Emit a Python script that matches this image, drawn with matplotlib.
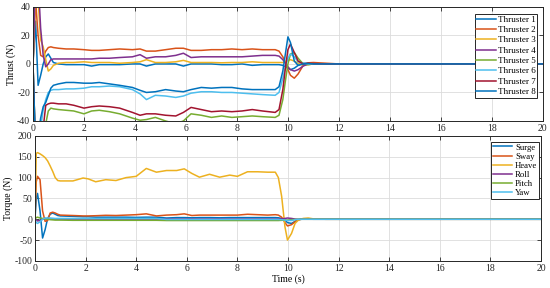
import matplotlib
matplotlib.use('Agg')
import matplotlib.pyplot as plt

plt.rcParams['font.family'] = ['Liberation Serif', 'DejaVu Serif']
plt.rcParams['axes.unicode_minus'] = False

# ---------------- data: top panel (thrust) ----------------
t_top = [0, 0.1, 0.2, 0.3, 0.4, 0.5, 0.6, 0.7, 0.8, 1.0,
         1.3, 1.6, 2.0, 2.3, 2.6, 3.0, 3.4, 3.9, 4.2, 4.45,
         4.8, 5.2, 5.6, 5.9, 6.2, 6.6, 7.0, 7.4, 7.8, 8.2,
         8.6, 9.0, 9.5, 9.65, 9.8, 9.9, 10.0, 10.1, 10.25, 10.4,
         10.6, 10.8, 11.0, 11.5, 12.0, 20.0]

thruster1 = [0, 30, -15, -8, 0, 5, 7, 4, 1, 0,
             -0.5, -0.5, -0.5, -1.5, -0.5, -0.5, -0.5, 0, 0, -1.5,
             0, 0, 0, -1.5, 0, 0, 0, -0.5, -0.5, 0,
             -1, -0.5, -0.5, -0.5, -1, -2, -3, -4, -3, -1,
             0.5, 0.5, 0.2, 0, 0, 0]
thruster2 = [0, 45, 20, 6, 5, 9, 11.5, 12, 11.5, 11,
             10.5, 10.5, 10, 9.5, 9.5, 10, 10.5, 10, 10.5, 9,
             9, 10, 11, 11, 9.5, 9.5, 10, 10, 10.5, 10,
             10.5, 10, 10, 9, 5, 1, -4, -8, -10, -7,
             -1, 0.8, 1, 0.5, 0, 0]
thruster3 = [0, 50, 45, 17, 12, 3, -5, -3.5, -1, 0.5,
             1, 1, 1.5, 1, 1, 1, 0.5, 1, 1.5, 3,
             1, 1, 1.5, 2.5, 1, 1, 1, 0.8, 1, 1,
             1.5, 1, 1, 1, 1, 1.5, 2.5, 3, 2, 0.5,
             -1, -0.5, 0, 0, 0, 0]
thruster4 = [0, 60, 60, 25, 6, -2, 0, 3, 3.5, 3.5,
             3.5, 3.5, 3.5, 3.5, 4, 4, 4.5, 5, 6.5, 4,
             5, 5, 6, 7.5, 4.5, 5, 5, 5, 5, 5,
             5.5, 6, 6, 5.5, 3, 0.5, -2, -4, -5, -4,
             -1.5, 0, 0.2, 0, 0, 0]
thruster5 = [0, -60, -60, -60, -55, -42, -33, -31, -31.5, -32,
             -32.5, -33, -35, -33, -32.5, -33.5, -35, -38, -39.5, -39,
             -37.5, -40, -42, -40, -35, -36, -37.5, -36.5, -37.5, -37,
             -36.5, -37, -37.5, -36, -25, -12, 0, 7, 8, 4,
             0, -0.5, 0, 0, 0, 0]
thruster6 = [0, -60, -55, -45, -32, -25, -20, -18.5, -18, -18,
             -17.5, -17.5, -17, -16, -16, -15.5, -16, -18, -21, -25,
             -22, -22.5, -23.5, -22.5, -20.5, -19.5, -19.5, -20, -20, -20.5,
             -21, -21.5, -22, -20, -10, -2, 4, 7, 5, 1.5,
             0, 0, 0, 0, 0, 0]
thruster7 = [0, -60, -60, -55, -45, -29, -28, -27.5, -27.5, -28,
             -28, -29, -31, -30, -29.5, -30, -31, -34, -36, -35,
             -35, -36, -36.5, -34, -30.5, -32, -33.5, -33, -33.5, -33,
             -32, -33, -34, -32, -18, -3, 10, 14, 8, 2,
             0, 0.5, 0.2, 0, 0, 0]
thruster8 = [0, -60, -50, -38, -30, -27, -22, -17, -15, -14,
             -13, -13, -13.5, -13.5, -13, -14, -15, -16.5, -18.5, -20,
             -19.5, -18, -19, -19.5, -18, -16.5, -17, -16.5, -16.5, -17.5,
             -18, -18, -18, -16, -5, 7, 19, 15, 2, -1,
             0, 0.3, 0, 0, 0, 0]

thrust_labels = ['Thruster 1', 'Thruster 2', 'Thruster 3', 'Thruster 4',
                 'Thruster 5', 'Thruster 6', 'Thruster 7', 'Thruster 8']

# ---------------- data: bottom panel (torque) ----------------
t_bot = [0, 0.05, 0.1, 0.2, 0.3, 0.4, 0.5, 0.6, 0.7, 0.8,
         0.9, 1.0, 1.5, 1.9, 2.1, 2.4, 2.8, 3.2, 3.6, 4.0,
         4.4, 4.8, 5.2, 5.6, 5.9, 6.2, 6.5, 6.9, 7.3, 7.7,
         8.0, 8.4, 8.8, 9.2, 9.5, 9.62, 9.75, 9.88, 9.98, 10.14,
         10.28, 10.41, 10.6, 10.8, 11.0, 11.5, 20.0]

surge = [0, 50, 62, 20, -45, -25, 2, 12, 15, 12,
         9, 8, 7, 6, 6, 5, 5, 5, 5, 4.5,
         5, 5, 3, 4, 4, 3.5, 4, 4, 3.5, 4,
         4, 4, 4, 4, 4, 3.5, 2, -2, -8, -10,
         -5, -1, 0.5, 0.5, 0, 0, 0]
sway = [0, 90, 103, 95, 20, -5, -3, 15, 17, 15,
        12, 10, 9, 8, 8, 8.5, 9.5, 9, 10, 11,
        13, 8, 10, 11, 13, 9, 10, 10, 10, 10,
        10, 12, 11, 10, 11, 10, 5, -8, -16, -13,
        -6, -1, 1, 1, 0.5, 0, 0]
heave = [0, 158, 160, 157, 153, 148, 140, 128, 115, 100,
         93, 92, 92, 99, 97, 90, 95, 93, 100, 103,
         122, 113, 117, 117, 121, 110, 101, 108, 101, 106,
         103, 114, 114, 113, 113, 100, 55, -18, -50, -34,
         -10, -2, 2, 3, 1, 0, 0]
roll = [0, -2, -4, -3, 0, 2, 1, 0.5, 0.5, 0.5,
        0.5, 0.5, 0.5, 0.5, 0.5, 0.5, 0.5, 0.5, 0.5, 0.5,
        0.5, 0.5, 0.5, 0.5, 0.5, 0.5, 0.5, 0.5, 0.5, 0.5,
        0.5, 0.5, 0.5, 0.5, 0.5, 0.5, 1, 2, 3, 2,
        0.5, 0, 0, 0, 0, 0, 0]
pitch = [0, 4, 5, 3, 2, 1, 0, -1, -1.5, -2,
         -2, -2, -2.5, -2.5, -2.5, -2.5, -2.5, -2.5, -2.5, -2.5,
         -2.5, -2.5, -3, -3, -3, -3, -3, -3, -3, -3,
         -3, -3, -3, -3, -3, -3, -2.5, -2, -2, -1,
         -0.5, 0, 0, 0, 0, 0, 0]
yaw = [0, -8, -10, -6, 0, 3, 3, 3, 2.5, 2,
       2, 2, 2, 2, 2, 2, 2, 2, 2, 2,
       2, 2, -0.5, -0.5, -0.5, -0.5, -0.5, -0.5, -0.5, -0.5,
       -0.5, -0.5, -0.5, -0.5, -0.5, -0.5, -1, -2, -3, -3,
       -1, 0, 0, 0, 0, 0, 0]

torque_labels = ['Surge', 'Sway', 'Heave', 'Roll', 'Pitch', 'Yaw']

# ---------------- styling ----------------
colors = ['#0072BD', '#D95319', '#EDB120', '#7E2F8E',
          '#77AC30', '#4DBEEE', '#A2142F', '#0072BD']
spine_col = '#262626'
fs = 7


def style_axes(ax):
    ax.set_xlim(0, 20)
    ax.set_xticks(range(0, 21, 2))
    ax.grid(True, color='#dcdcdc', linewidth=0.6)
    ax.set_axisbelow(True)
    ax.tick_params(direction='in', length=3, width=0.6, top=True, right=True,
                   labelsize=fs, colors=spine_col, pad=2)
    for s in ax.spines.values():
        s.set_color(spine_col)
        s.set_linewidth(0.7)


fig = plt.figure(figsize=(5.5, 2.88), dpi=100)
ax1 = fig.add_axes([0.06, 0.58, 0.927, 0.396])
ax2 = fig.add_axes([0.0636, 0.094, 0.92, 0.434])

thrusters = [thruster1, thruster2, thruster3, thruster4,
             thruster5, thruster6, thruster7, thruster8]
for y, c, lab in zip(thrusters, colors, thrust_labels):
    ax1.plot(t_top, y, color=c, linewidth=1.1, label=lab)
style_axes(ax1)
ax1.set_ylim(-40, 40)
ax1.set_yticks([-40, -20, 0, 20, 40])
ax1.set_ylabel('Thrust (N)', fontsize=fs, labelpad=1)
leg1 = ax1.legend(loc='upper right', bbox_to_anchor=(0.989, 0.94),
                  fontsize=6.5, frameon=True, fancybox=False,
                  edgecolor=spine_col, framealpha=1, labelspacing=0.22,
                  borderpad=0.2, handlelength=2.2, handletextpad=0.15,
                  borderaxespad=0)
leg1.get_frame().set_linewidth(0.7)

torques = [surge, sway, heave, roll, pitch, yaw]
for y, c, lab in zip(torques, colors[:6], torque_labels):
    ax2.plot(t_bot, y, color=c, linewidth=1.1, label=lab)
style_axes(ax2)
ax2.set_ylim(-100, 200)
ax2.set_yticks([-100, -50, 0, 50, 100, 150, 200])
ax2.set_ylabel('Torque (N)', fontsize=fs, labelpad=1)
ax2.set_xlabel('Time (s)', fontsize=fs, labelpad=1)
leg2 = ax2.legend(loc='upper right', bbox_to_anchor=(0.996, 0.954),
                  fontsize=6.3, frameon=True, fancybox=False,
                  edgecolor=spine_col, framealpha=1, labelspacing=0.12,
                  borderpad=0.2, handlelength=2.2, handletextpad=0.3,
                  borderaxespad=0)
leg2.get_frame().set_linewidth(0.7)

fig.savefig('out.png', dpi=100)
